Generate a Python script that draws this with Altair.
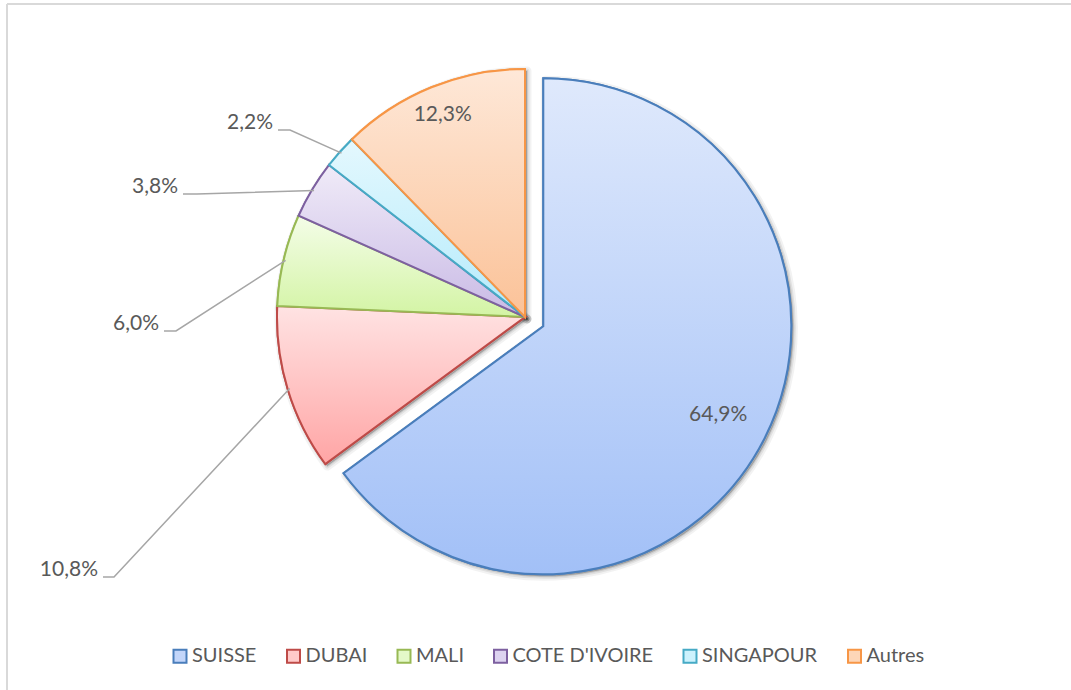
import math
import altair as alt
import pandas as pd

# ---------------- data ----------------
pays = ["SUISSE", "DUBAI", "MALI", "COTE D'IVOIRE", "SINGAPOUR", "Autres"]
parts = [64.9, 10.8, 6.0, 3.8, 2.2, 12.3]

# ---------------- styles ----------------
stroke_colors = ["#4a7ebb", "#be4b48", "#98b954", "#7d60a0", "#46aac5", "#f79646"]
grad_top = ["#dfe9fc", "#ffe3e3", "#f4fde8", "#f0ebf8", "#e4f8fe", "#fee8d8"]
grad_bottom = ["#a2c0f7", "#ffa5a5", "#d3f4a4", "#c9bae5", "#b4ebfb", "#fbc298"]
legend_fill = ["#c3d6fa", "#ffcaca", "#e4f9c8", "#ddd3f0", "#ccf2fd", "#fdd6b8"]
TEXT_COLOR = "#595959"
FONT = "Lato"

# ---------------- layout ----------------
W, H = 1071, 690
R = 248
CX, CY = 525, 317
EXPLODE = {"SUISSE": 20.5}
inside_label_frac = {"SUISSE": 0.79, "Autres": 0.88}
# outside labels: leader start (x, y) and elbow x
outside_leader = {
    "DUBAI": (103, 577, 114),
    "MALI": (164, 331, 176),
    "COTE D'IVOIRE": (183, 194, 197),
    "SINGAPOUR": (278, 130, 290),
}

# ---------------- derived table ----------------
df = pd.DataFrame({"pays": pays, "part": parts})
df["end"] = df["part"].cumsum()
df["start"] = df["end"] - df["part"]
df["mid"] = (df["start"] + df["end"]) / 2
df["ang"] = df["mid"] / 100 * 2 * math.pi
df["dx"] = df["ang"].apply(math.sin)
df["dy"] = df["ang"].apply(lambda a: -math.cos(a))
df["cx"] = [CX + EXPLODE.get(p, 0) * dx for p, dx in zip(df["pays"], df["dx"])]
df["cy"] = [CY + EXPLODE.get(p, 0) * dy for p, dy in zip(df["pays"], df["dy"])]
df["label"] = [f"{v:.1f}".replace(".", ",") + "%" for v in df["part"]]

xs = alt.Scale(domain=[0, W], nice=False, zero=False)
ys = alt.Scale(domain=[0, H], nice=False, zero=False, reverse=True)
ts = alt.Scale(domain=[0, 100], range=[0, 2 * math.pi])

# inside labels
ins = df[df["pays"].isin(inside_label_frac.keys())].copy()
ins["lx"] = [cx + inside_label_frac[p] * R * dx for p, cx, dx in zip(ins["pays"], ins["cx"], ins["dx"])]
ins["ly"] = [cy + inside_label_frac[p] * R * dy for p, cy, dy in zip(ins["pays"], ins["cy"], ins["dy"])]

# outside labels + leader lines
out_rows, line_rows = [], []
for _, r in df.iterrows():
    if r["pays"] in outside_leader:
        lx, ly, ex = outside_leader[r["pays"]]
        out_rows.append({"pays": r["pays"], "label": r["label"], "lx": lx - 5, "ly": ly - 7})
        line_rows.append({"pays": r["pays"], "seq": 0, "px": lx, "py": ly})
        line_rows.append({"pays": r["pays"], "seq": 1, "px": ex, "py": ly})
        line_rows.append({"pays": r["pays"], "seq": 2,
                          "px": r["cx"] + (R - 2) * r["dx"], "py": r["cy"] + (R - 2) * r["dy"]})
outs = pd.DataFrame(out_rows)
lines = pd.DataFrame(line_rows)

base = alt.Chart(df)
pos = dict(
    x=alt.X("cx:Q", scale=xs, axis=None),
    y=alt.Y("cy:Q", scale=ys, axis=None),
    theta=alt.Theta("start:Q", scale=ts),
    theta2="end:Q",
)

# border (top and left edges of the Excel chart frame)
one = pd.DataFrame({"k": [0]})
border_top = alt.Chart(one).mark_rule(color="#d9d9d9", strokeWidth=2).encode(
    x=alt.value(7), x2=alt.value(W), y=alt.value(4))
border_left = alt.Chart(one).mark_rule(color="#d9d9d9", strokeWidth=2).encode(
    x=alt.value(7), y=alt.value(4), y2=alt.value(H))

# shadows
def shadow(off, sw, op):
    return base.mark_arc(outerRadius=R, fill="#000000", fillOpacity=op, stroke="#000000",
                         strokeOpacity=op, strokeWidth=sw, strokeJoin="round").encode(
        x=alt.X("sx:Q", scale=xs, axis=None),
        y=alt.Y("sy:Q", scale=ys, axis=None),
        theta=alt.Theta("start:Q", scale=ts),
        theta2="end:Q",
    ).transform_calculate(sx=f"datum.cx + {off}", sy=f"datum.cy + {off}")

shadows = [shadow(2, 9, 0.05), shadow(2, 5, 0.07), shadow(2, 2, 0.1)]

legend = alt.Legend(
    title=None, orient="none", legendX=170, legendY=646, direction="horizontal",
    symbolType="square", symbolSize=169, symbolStrokeWidth=2, symbolOpacity=1,
    labelFont=FONT, labelFontSize=20, labelColor=TEXT_COLOR, labelOffset=2,
    columnPadding=25.5, padding=0,
)
flat = base.mark_arc(outerRadius=R, strokeWidth=2).encode(
    fill=alt.Fill("pays:N", scale=alt.Scale(domain=pays, range=legend_fill), sort=pays, legend=legend),
    stroke=alt.Stroke("pays:N", scale=alt.Scale(domain=pays, range=stroke_colors), sort=pays, legend=legend),
    **pos,
)

grads = []
for p, c0, c1, sc in zip(pays, grad_top, grad_bottom, stroke_colors):
    g = {"gradient": "linear", "x1": 0, "y1": 0, "x2": 0, "y2": 1,
         "stops": [{"offset": 0, "color": c0}, {"offset": 1, "color": c1}]}
    grads.append(
        base.mark_arc(outerRadius=R, fill=g, stroke=sc, strokeWidth=2, strokeJoin="miter")
        .encode(**pos)
        .transform_filter(alt.datum.pays == p)
    )

leaders = alt.Chart(lines).mark_line(color="#a6a6a6", strokeWidth=1.5).encode(
    x=alt.X("px:Q", scale=xs, axis=None),
    y=alt.Y("py:Q", scale=ys, axis=None),
    detail="pays:N",
    order="seq:O",
)

txt_in = alt.Chart(ins).mark_text(font=FONT, fontSize=21, color=TEXT_COLOR, align="center",
                                  baseline="middle").encode(
    x=alt.X("lx:Q", scale=xs, axis=None), y=alt.Y("ly:Q", scale=ys, axis=None), text="label:N")
txt_out = alt.Chart(outs).mark_text(font=FONT, fontSize=21, color=TEXT_COLOR, align="right",
                                    baseline="middle").encode(
    x=alt.X("lx:Q", scale=xs, axis=None), y=alt.Y("ly:Q", scale=ys, axis=None), text="label:N")

chart = alt.layer(border_top, border_left, *shadows, flat, *grads, leaders, txt_in, txt_out).properties(
    width=W, height=H, padding=0, autosize=alt.AutoSizeParams(type="none"), background="white"
).configure_view(stroke=None)

chart.save("out.html", embed_options={"renderer": "svg", "actions": False})
